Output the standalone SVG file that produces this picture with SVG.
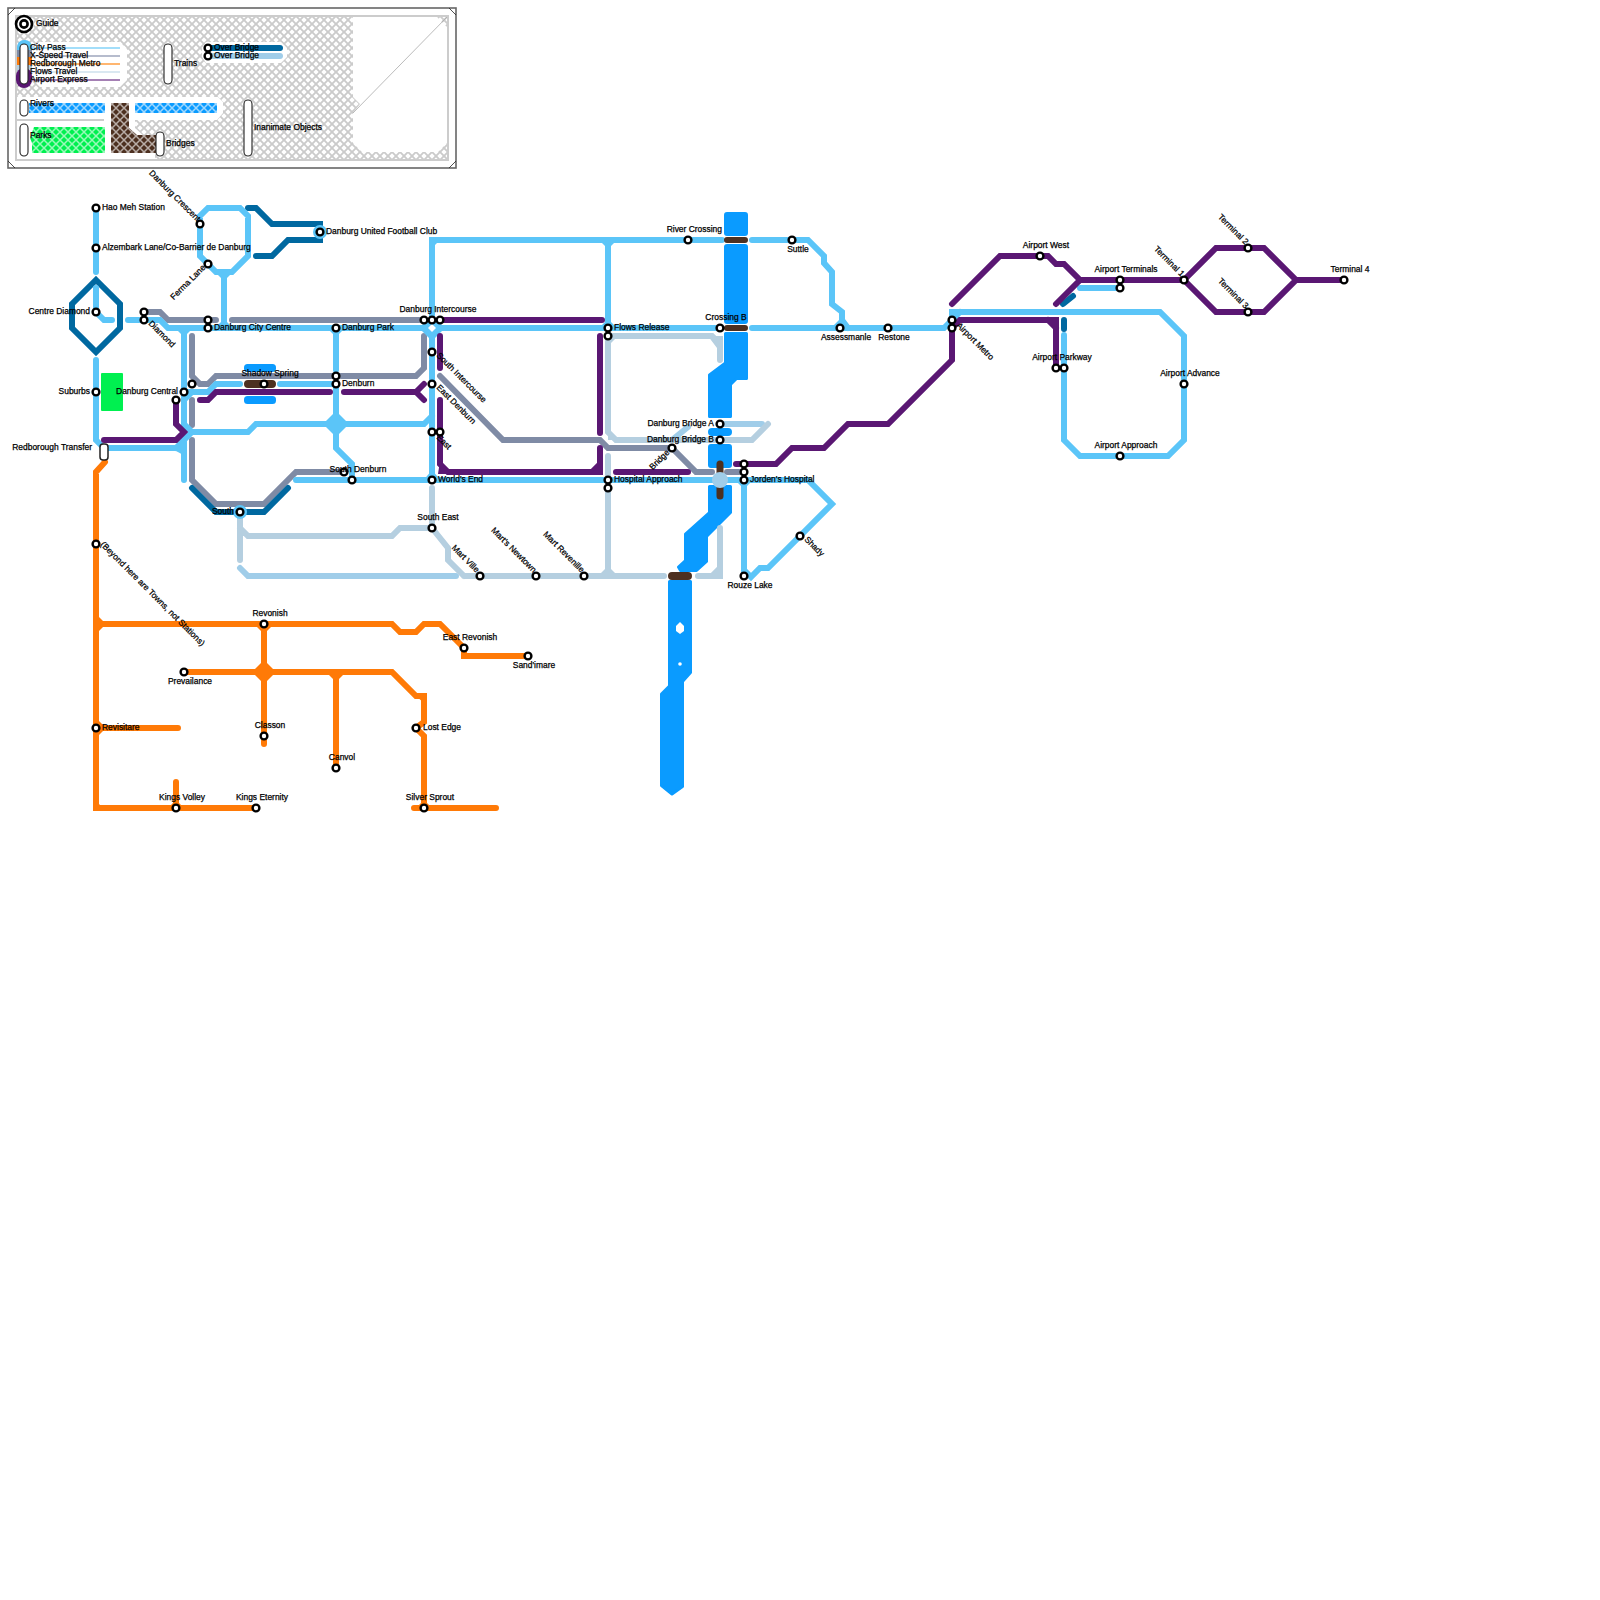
<svg xmlns="http://www.w3.org/2000/svg" width="1600" height="1600" viewBox="0 0 1600 1600">
<style>
text{font-family:"Liberation Sans",Arial,sans-serif;font-size:8.45px;font-weight:400;fill:#000;stroke:#000;stroke-width:.25}
.e{text-anchor:end}.m{text-anchor:middle}
.l{fill:none;stroke-width:6;stroke-linecap:round;stroke-linejoin:miter}
.cp{stroke:#5bc5f8}.xs{stroke:#7f8ba5}.rm{stroke:#ff7a07}.ft{stroke:#b5cfe0}.ae{stroke:#5a1773}.ob1{stroke:#0068a0}.ob2{stroke:#a0cde9}
.fcp{fill:#5bc5f8}.frm{fill:#ff7a07}.fft{fill:#b5cfe0}.fxs{fill:#7f8ba5}
.riv{fill:#0a9bff;stroke:#0a9bff;stroke-width:3;stroke-linejoin:round}
.br{fill:none;stroke:#4d3020;stroke-linecap:round}
circle.s{fill:#fff;stroke:#000;stroke-width:2.4}
.pill{fill:#fff;stroke:#222;stroke-width:1.1}
.leg{fill:none;stroke-width:2}
</style>
<defs>
<pattern id="h" width="8" height="8" patternUnits="userSpaceOnUse"><path d="M0 0L8 8M8 0L0 8" stroke="#cbcbcb" stroke-width="1.9" fill="none"/></pattern>
<pattern id="w" width="8" height="8" patternUnits="userSpaceOnUse"><path d="M0 0L8 8M8 0L0 8" stroke="#fff" stroke-opacity=".6" stroke-width="1.5" fill="none"/></pattern>
</defs>

<g id="guide">
<rect x="8" y="8" width="448" height="160" fill="#fff" stroke="#666" stroke-width="1.6"/>
<path d="M8 15L15 8M449 8L456 15M8 161L15 168M449 168L456 161" stroke="#222" stroke-width=".8" fill="none"/>
<rect x="16" y="16" width="432" height="144" fill="#fff"/>
<rect x="16" y="16" width="432" height="144" fill="url(#h)"/>
<rect x="16" y="16" width="432" height="144" fill="none" stroke="#ccc" stroke-width="2"/>
<polygon points="353,17 437,17 447,27 447,143 438,152 362,152 353,143 353,113 360,104 353,97" fill="#fff"/>
<path d="M447 17L353 113" stroke="#aaa" stroke-width=".8"/>
<polygon points="40,42 120,42 127,49 127,80 120,87 40,87 33,80 33,49" fill="#fff"/>
<polygon points="206,42 281,42 287,48 287,57 281,63 206,63 202,57 202,48" fill="#fff"/>
<polygon points="17,97 218,97 223,102 223,113 217,120 135,120 135,128 145,137 155,137 155,159 17,159" fill="#fff"/>
<path d="M17 120H104" stroke="#ccc" stroke-width="2"/>

<rect x="17" y="40" width="15" height="22" rx="7" fill="#5bc5f8"/>
<rect x="17" y="50" width="15" height="12" fill="#7f8ba5"/>
<rect x="17" y="57" width="15" height="10" fill="#ff7a07"/>
<rect x="17" y="65" width="15" height="9" fill="#b5cfe0"/>
<rect x="16" y="68" width="16" height="20" rx="8" fill="#5a1773"/>
<rect x="20" y="44" width="8" height="40" rx="4" class="pill"/>
<circle cx="24" cy="24" r="8" fill="#fff" stroke="#000" stroke-width="2.6"/>
<circle cx="24" cy="24" r="3.6" fill="#fff" stroke="#000" stroke-width="2.6"/>
<text x="36" y="26">Guide</text>
<path class="leg" d="M31 48H120" stroke="#a3defa"/>
<path class="leg" d="M31 56H120" stroke="#b6bccd"/>
<path class="leg" d="M31 64H120" stroke="#ffb670"/>
<path class="leg" d="M31 72H120" stroke="#dae8f1"/>
<path class="leg" d="M31 80H120" stroke="#a580b4"/>
<text x="30" y="50">City Pass</text>
<text x="30" y="58">X-Speed Travel</text>
<text x="30" y="66">Redborough Metro</text>
<text x="30" y="74">Flows Travel</text>
<text x="30" y="82">Airport Express</text>
<rect x="164" y="44" width="8" height="40" rx="4" class="pill"/>
<text x="174" y="66">Trains</text>
<path class="l ob1" d="M208 48H280"/>
<path class="l ob2" d="M208 56H280"/>
<circle class="s" cx="208" cy="48" r="3.4"/>
<circle class="s" cx="208" cy="56" r="3.4"/>
<text x="214" y="50">Over Bridge</text>
<text x="214" y="58">Over Bridge</text>
<rect x="29" y="103" width="76" height="10" fill="#0a9bff"/>
<rect x="135" y="103" width="82" height="10" fill="#0a9bff"/>
<polygon points="34,127 105,127 105,153 32,153 32,143 30,138" fill="#00f050"/>
<polygon points="111,103 129,103 129,128 137,135 156,135 156,153 111,153" fill="#4d3020"/>
<rect x="29" y="103" width="76" height="10" fill="url(#w)"/>
<rect x="135" y="103" width="82" height="10" fill="url(#w)"/>
<polygon points="34,127 105,127 105,153 32,153 32,143 30,138" fill="url(#w)"/>
<polygon points="111,103 129,103 129,128 137,135 156,135 156,153 111,153" fill="url(#w)"/>
<rect x="20" y="100" width="8" height="16" rx="4" class="pill"/>
<rect x="20" y="124" width="8" height="32" rx="4" class="pill"/>
<rect x="156" y="132" width="8" height="24" rx="4" class="pill"/>
<rect x="244" y="100" width="8" height="56" rx="4" class="pill"/>
<text x="30" y="106">Rivers</text>
<text x="30" y="138">Parks</text>
<text x="166" y="146">Bridges</text>
<text x="254" y="130">Inanimate Objects</text>
</g>

<g id="park"><rect x="101" y="373" width="22" height="38" rx="1" fill="#00f050"/></g>

<g id="rivers">
<rect class="riv" x="725.500" y="213.500" width="21" height="21" rx="1.500"/>
<rect class="riv" x="725.500" y="245.500" width="21" height="77" rx="1.500"/>
<polygon class="riv" points="725.500,333.500 746.500,333.500 746.500,378.500 736.500,378.500 730.500,384.500 730.500,416.500 709.500,416.500 709.500,375 725.500,363"/>
<rect x="708" y="428" width="24" height="8" rx="4" fill="#0a9bff"/>
<rect class="riv" x="709.500" y="445.500" width="21" height="21" rx="1.500"/>
<polygon class="riv" points="709.500,486.500 730.500,486.500 730.500,512.500 706.500,536.500 706.500,561.500 696.500,570.500 680.500,570.500 678.500,567 685.500,560.500 685.500,534 709.500,512.500"/>
<polygon class="riv" points="669.500,581.500 690.500,581.500 690.500,672.500 682.500,681.500 682.500,786.500 672,794 661.500,785.500 661.500,694 669.500,686"/>
<rect x="244" y="364" width="32" height="8" rx="3.500" fill="#0a9bff"/>
<rect x="244" y="396" width="32" height="8" rx="3.500" fill="#0a9bff"/>
<polygon points="680,622 684,626 684,631 680,634 676,631 676,626" fill="#fff"/>
<circle cx="680" cy="664" r="1.800" fill="#fff"/>
</g>

<g id="connectors">
<g id="flows-travel">
<path class="l ob2" d="M672 440L688 427M240 568L248 576H456M720 424H762"/>
<path class="l ft" d="M608 336H712L720 344V360M608 336V432L616 440H752L768 424M608 456V480M608 488V576M464 576H664M698 576H712L720 568V528M464 576L448 560V548L432 528M432 488V528H400L392 536H248L240 528M240 512V560"/>
<polygon class="fft" points="598,576 618,576 608,566"/>
<polygon class="fft" points="608,336 618,336 608,346"/>
<polygon class="fft" points="608,430 618,440 608,440"/>
<polygon class="fft" points="723,360 723,336 708,336 717,348"/>
<polygon class="fft" points="723,579 708,579 723,564"/>
</g>
<g id="x-speed-travel">
<path class="l xs" d="M144 312H160L168 320H216M232 320H424M192 336V376L200 384H208L216 376H416L424 368V336M192 400V425M192 440V480L216 504H264L296 472H344M440 376L503 440H600L608 448H672L696 472H712M727 472H740"/>
</g>
<g id="over-bridge-blue">
<path class="l ob1" d="M96 280L120 304V328L96 352L72 328V304ZM248 208H256L272 224H320V240H288L272 256H256M192 488L216 512H264L288 488M1063 304L1073 296M1064 320V329"/>
</g>
<g id="city-pass">
<circle class="fcp" cx="320" cy="232" r="7"/>
<circle class="fcp" cx="240" cy="512" r="7"/>
<path class="l cp" d="M96 208V272M96 288V312L104 320H112M96 360V440L104 448H180M128 320H160L168 328H720M184 328V480M224 272V328M208 208H240L248 216V256L232 272H216L200 256V216ZM184 392H208L216 384H240M280 384H336M192 392L184 400V424L192 432H248L256 424H424L432 416M192 432L176 448M336 328V370M336 384V448L352 464V480M296 480H720M432 240V480M432 240H722M608 240V328M752 240H808L824 256V263L832 272V304L842 312V320L848 328M752 328H944L952 320V312H1160L1184 336V440L1168 456H1080L1064 440V335M952 320L960 312M1080 288H1120M720 480H808L832 504L768 568H760L751 577L744 570M744 480V576"/>
<polygon class="fcp" points="175,328 193,328 184,337"/>
<polygon class="fcp" points="215,328 233,328 224,319"/>
<polygon class="fcp" points="215,272 233,272 224,281"/>
<polygon class="fcp" points="327,328 345,328 336,337"/>
<polygon class="fcp" points="323,424 336,411 349,424 336,437"/>
<polygon class="fcp" points="419,328 432,315 445,328 432,341"/>
<polygon points="428,328 432,324 436,328 432,332" fill="#fff"/>
<polygon class="fcp" points="422,482 432,470 442,482"/>
<polygon class="fcp" points="599,240 617,240 608,249"/>
<polygon class="fcp" points="599,328 608,319 617,328"/>
<polygon class="fcp" points="735,480 753,480 744,489"/>
<polygon class="fcp" points="831,328 840,319 849,328"/>
<polygon class="fcp" points="176,451 184,440 187,457"/>
<polygon class="fcp" points="429,237 443,237 429,251"/>
</g>
<g id="redborough-metro">
<path class="l rm" d="M105 462L96 472V808H256M96 624H392L400 632H416L424 624H440L464 648V656H528M184 672H392L416 696H424V722L416 728L424 736V808M414 808H496M264 624V744M336 672V768M96 728H178M176 782V808"/>
<polygon class="frm" points="96,614 106,624 96,634"/>
<polygon class="frm" points="96,718 106,728 96,738"/>
<polygon class="frm" points="93,811 106,811 93,798"/>
<polygon class="frm" points="254,624 274,624 264,634"/>
<polygon class="frm" points="252,672 264,660 276,672 264,684"/>
<polygon class="frm" points="326,672 346,672 336,682"/>
<polygon class="frm" points="166,810 176,800 186,810"/>
<polygon class="frm" points="414,810 424,800 434,810"/>
<polygon class="frm" points="427,693 427,706 413,693"/>
</g>
<g id="airport-express">
<path class="l ae" d="M104 440H176L184 432L176 424V400M200 400H208L216 392H330M344 392H416L424 384M416 392L424 400M440 336V368M440 400V464L448 472H592L600 464V448M440 320H602M600 336V433M616 472H688M736 464H776L792 448H824L848 424H888L952 360V328L960 320H1056V368M1048 320L1056 328M952 304L1000 256H1048L1056 264H1064L1080 280L1056 304M1080 280H1184L1216 248H1264L1296 280L1264 312H1216L1184 280M1296 280H1344"/>
<polygon points="440,461 451,474 438,474" fill="#5a1773"/>
<polygon points="603,475 603,461 590,475" fill="#5a1773"/>
</g>
</g>
<g id="bridges">
<path class="br" stroke-width="6" d="M727 240H745M727 328H745"/>
<path class="br" stroke-width="7" d="M720 464V496"/>
<path class="br" stroke-width="8" d="M672 576H688M248 384H272"/>
<circle cx="720" cy="480" r="8" fill="#a0cde9"/>
</g>

<g id="n-hao-meh"><circle class="s" cx="96" cy="208" r="3.400"/><text x="102" y="210">Hao Meh Station</text></g>
<g id="n-alzembark"><circle class="s" cx="96" cy="248" r="3.400"/><text x="102" y="250">Alzembark Lane/Co-Barrier de Danburg</text></g>
<g id="n-centre-diamond"><circle class="s" cx="96" cy="312" r="3.400"/><text class="e" x="90" y="314">Centre Diamond</text></g>
<g id="n-suburbs"><circle class="s" cx="96" cy="392" r="3.400"/><text class="e" x="90" y="394">Suburbs</text></g>
<g id="n-redborough-transfer"><rect class="pill" x="100" y="444" width="8" height="16" rx="3" style="stroke-width:1.5"/><text class="e" x="92" y="450">Redborough Transfer</text></g>
<g id="n-beyond"><circle class="s" cx="96" cy="544" r="3.400"/><text transform="translate(100 545) rotate(45)">(Beyond here are Towns, not Stations)</text></g>
<g id="n-revisitare"><circle class="s" cx="96" cy="728" r="3.400"/><text x="102" y="730">Revisitare</text></g>
<g id="n-diamond"><circle class="s" cx="144" cy="312" r="3.400"/><circle class="s" cx="144" cy="320" r="3.400"/><text transform="translate(148 324) rotate(45)">Diamond</text></g>
<g id="n-crescent"><circle class="s" cx="200" cy="224" r="3.400"/><text class="e" transform="translate(197 222) rotate(45)">Danburg Crescent</text></g>
<g id="n-ferma"><circle class="s" cx="208" cy="264" r="3.400"/><text class="e" transform="translate(206 268) rotate(-45)">Ferma Lane</text></g>
<g id="n-city-centre"><circle class="s" cx="208" cy="320" r="3.400"/><circle class="s" cx="208" cy="328" r="3.400"/><text x="214" y="330">Danburg City Centre</text></g>
<g id="n-united"><circle class="s" cx="320" cy="232" r="3.400"/><text x="326" y="234">Danburg United Football Club</text></g>
<g id="n-park"><circle class="s" cx="336" cy="328" r="3.400"/><text x="342" y="330">Danburg Park</text></g>
<g id="n-denburn"><circle class="s" cx="336" cy="376" r="3.400"/><circle class="s" cx="336" cy="384" r="3.400"/><text x="342" y="386">Denburn</text></g>
<g id="n-central"><circle class="s" cx="192" cy="384" r="3.400"/><circle class="s" cx="184" cy="392" r="3.400"/><circle class="s" cx="176" cy="400" r="3.400"/><text class="e" x="178" y="394">Danburg Central</text></g>
<g id="n-shadow"><circle class="s" cx="264" cy="384" r="3.400"/><text class="m" x="270" y="376">Shadow Spring</text></g>
<g id="n-south"><circle class="s" cx="240" cy="512" r="3.400"/><text class="e" x="234" y="514">South</text></g>
<g id="n-south-denburn"><circle class="s" cx="344" cy="472" r="3.400"/><circle class="s" cx="352" cy="480" r="3.400"/><text class="m" x="358" y="472">South Denburn</text></g>
<g id="n-intercourse"><circle class="s" cx="424" cy="320" r="3.400"/><circle class="s" cx="432" cy="320" r="3.400"/><circle class="s" cx="440" cy="320" r="3.400"/><text class="m" x="438" y="312">Danburg Intercourse</text></g>
<g id="n-south-intercourse"><circle class="s" cx="432" cy="352" r="3.400"/><text transform="translate(436 356) rotate(45)">South Intercourse</text></g>
<g id="n-east-denburn"><circle class="s" cx="432" cy="384" r="3.400"/><text transform="translate(436 388) rotate(45)">East Denburn</text></g>
<g id="n-east"><circle class="s" cx="432" cy="432" r="3.400"/><circle class="s" cx="440" cy="432" r="3.400"/><text transform="translate(436 438) rotate(45)">East</text></g>
<g id="n-worlds-end"><circle class="s" cx="432" cy="480" r="3.400"/><text x="438" y="482">World's End</text></g>
<g id="n-south-east"><circle class="s" cx="432" cy="528" r="3.400"/><text class="m" x="438" y="520">South East</text></g>
<g id="n-mart-ville"><circle class="s" cx="480" cy="576" r="3.400"/><text class="e" transform="translate(476 573) rotate(45)">Mart Ville</text></g>
<g id="n-marts-newtown"><circle class="s" cx="536" cy="576" r="3.400"/><text class="e" transform="translate(533 573) rotate(45)">Mart's Newtown</text></g>
<g id="n-mart-revenille"><circle class="s" cx="584" cy="576" r="3.400"/><text class="e" transform="translate(581 573) rotate(45)">Mart Revenille</text></g>
<g id="n-flows-release"><circle class="s" cx="608" cy="328" r="3.400"/><circle class="s" cx="608" cy="336" r="3.400"/><text x="614" y="330">Flows Release</text></g>
<g id="n-hospital-approach"><circle class="s" cx="608" cy="480" r="3.400"/><circle class="s" cx="608" cy="488" r="3.400"/><text x="614" y="482">Hospital Approach</text></g>
<g id="n-river-crossing"><circle class="s" cx="688" cy="240" r="3.400"/><text class="e" x="722" y="232">River Crossing</text></g>
<g id="n-crossing-b"><circle class="s" cx="720" cy="328" r="3.400"/><text class="m" x="726" y="320">Crossing B</text></g>
<g id="n-suttle"><circle class="s" cx="792" cy="240" r="3.400"/><text class="m" x="798" y="252">Suttle</text></g>
<g id="n-assessmanle"><circle class="s" cx="840" cy="328" r="3.400"/><text class="m" x="846" y="340">Assessmanle</text></g>
<g id="n-restone"><circle class="s" cx="888" cy="328" r="3.400"/><text class="m" x="894" y="340">Restone</text></g>
<g id="n-bridge-a"><circle class="s" cx="720" cy="424" r="3.400"/><text class="e" x="714" y="426">Danburg Bridge A</text></g>
<g id="n-bridge-b"><circle class="s" cx="720" cy="440" r="3.400"/><text class="e" x="714" y="442">Danburg Bridge B</text></g>
<g id="n-bridge"><circle class="s" cx="672" cy="448" r="3.400"/><text class="e" transform="translate(670 453) rotate(-45)">Bridge</text></g>
<g id="n-jordens"><circle class="s" cx="744" cy="464" r="3.400"/><circle class="s" cx="744" cy="472" r="3.400"/><circle class="s" cx="744" cy="480" r="3.400"/><text x="750" y="482">Jorden's Hospital</text></g>
<g id="n-shady"><circle class="s" cx="800" cy="536" r="3.400"/><text transform="translate(804 540) rotate(45)">Shady</text></g>
<g id="n-rouze"><circle class="s" cx="744" cy="576" r="3.400"/><text class="m" x="750" y="588">Rouze Lake</text></g>
<g id="n-airport-metro"><circle class="s" cx="952" cy="320" r="3.400"/><circle class="s" cx="952" cy="328" r="3.400"/><text transform="translate(956 326) rotate(45)">Airport Metro</text></g>
<g id="n-airport-west"><circle class="s" cx="1040" cy="256" r="3.400"/><text class="m" x="1046" y="248">Airport West</text></g>
<g id="n-airport-terminals"><circle class="s" cx="1120" cy="280" r="3.400"/><circle class="s" cx="1120" cy="288" r="3.400"/><text class="m" x="1126" y="272">Airport Terminals</text></g>
<g id="n-terminal-1"><circle class="s" cx="1184" cy="280" r="3.400"/><text class="e" transform="translate(1181 277) rotate(45)">Terminal 1</text></g>
<g id="n-terminal-2"><circle class="s" cx="1248" cy="248" r="3.400"/><text class="e" transform="translate(1245 245) rotate(45)">Terminal 2</text></g>
<g id="n-terminal-3"><circle class="s" cx="1248" cy="312" r="3.400"/><text class="e" transform="translate(1245 309) rotate(45)">Terminal 3</text></g>
<g id="n-terminal-4"><circle class="s" cx="1344" cy="280" r="3.400"/><text class="m" x="1350" y="272">Terminal 4</text></g>
<g id="n-airport-parkway"><circle class="s" cx="1056" cy="368" r="3.400"/><circle class="s" cx="1064" cy="368" r="3.400"/><text class="m" x="1062" y="360">Airport Parkway</text></g>
<g id="n-airport-advance"><circle class="s" cx="1184" cy="384" r="3.400"/><text class="m" x="1190" y="376">Airport Advance</text></g>
<g id="n-airport-approach"><circle class="s" cx="1120" cy="456" r="3.400"/><text class="m" x="1126" y="448">Airport Approach</text></g>
<g id="n-revonish"><circle class="s" cx="264" cy="624" r="3.400"/><text class="m" x="270" y="616">Revonish</text></g>
<g id="n-east-revonish"><circle class="s" cx="464" cy="648" r="3.400"/><text class="m" x="470" y="640">East Revonish</text></g>
<g id="n-sandimare"><circle class="s" cx="528" cy="656" r="3.400"/><text class="m" x="534" y="668">Sand'imare</text></g>
<g id="n-prevailance"><circle class="s" cx="184" cy="672" r="3.400"/><text class="m" x="190" y="684">Prevailance</text></g>
<g id="n-classon"><circle class="s" cx="264" cy="736" r="3.400"/><text class="m" x="270" y="728">Classon</text></g>
<g id="n-canvol"><circle class="s" cx="336" cy="768" r="3.400"/><text class="m" x="342" y="760">Canvol</text></g>
<g id="n-lost-edge"><circle class="s" cx="416" cy="728" r="3.400"/><text x="423" y="730">Lost Edge</text></g>
<g id="n-kings-volley"><circle class="s" cx="176" cy="808" r="3.400"/><text class="m" x="182" y="800">Kings Volley</text></g>
<g id="n-kings-eternity"><circle class="s" cx="256" cy="808" r="3.400"/><text class="m" x="262" y="800">Kings Eternity</text></g>
<g id="n-silver-sprout"><circle class="s" cx="424" cy="808" r="3.400"/><text class="m" x="430" y="800">Silver Sprout</text></g>
</svg>
